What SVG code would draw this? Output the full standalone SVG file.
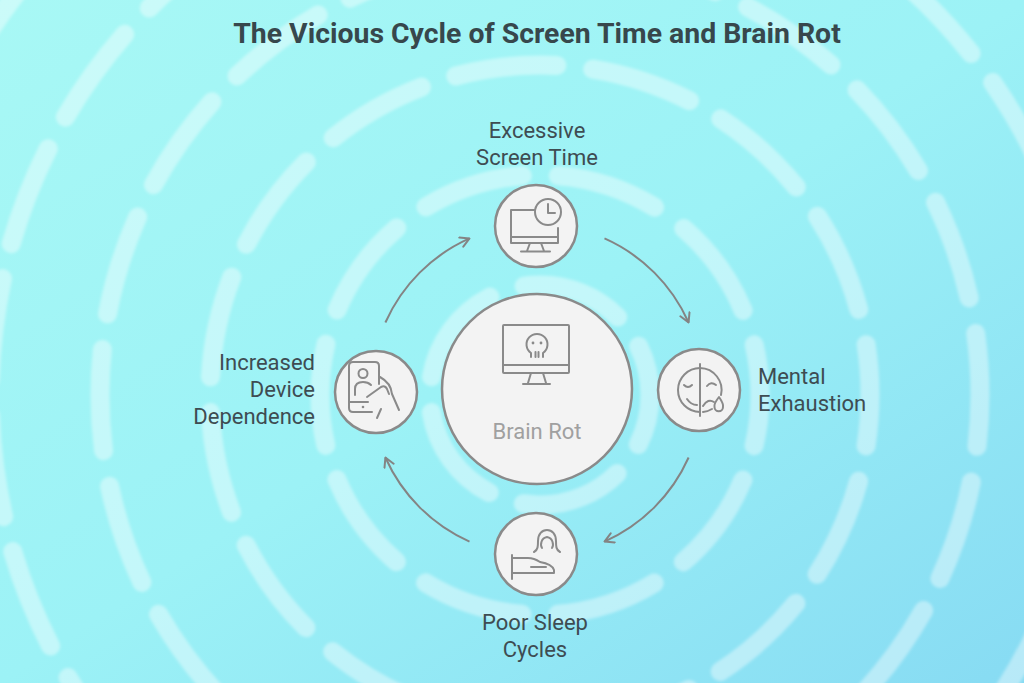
<svg xmlns="http://www.w3.org/2000/svg" width="1024" height="683" viewBox="0 0 1024 683">
  <defs>
    <linearGradient id="bg" x1="0" y1="0" x2="1" y2="1">
      <stop offset="0" stop-color="#a8f8f5"/>
      <stop offset="0.5" stop-color="#9cf2f6"/>
      <stop offset="1" stop-color="#87dbf3"/>
    </linearGradient>
    <filter id="soft" x="-5%" y="-5%" width="110%" height="110%">
      <feGaussianBlur stdDeviation="1.4"/>
    </filter>
    <marker id="arrow" viewBox="0 0 12 12" refX="11" refY="6" markerWidth="12" markerHeight="12" markerUnits="userSpaceOnUse" orient="auto">
      <path d="M2,1 L11,6 L2,11" fill="none" stroke="#848484" stroke-width="2" stroke-linecap="round" stroke-linejoin="round"/>
    </marker>
    <style>
      .ring { fill: none; stroke: #ffffff; stroke-opacity: 0.4; stroke-width: 19; stroke-linecap: round; }
      .node { fill: #f3f3f3; stroke: #8a8a8a; stroke-width: 2.5; }
      .icon { fill: none; stroke: #8a8a8a; stroke-width: 2; stroke-linecap: round; stroke-linejoin: round; }
      .conn { fill: none; stroke: #848484; stroke-width: 2; }
      .title { font-family: Roboto, "Liberation Sans", sans-serif; font-weight: 700; font-size: 28.4px; fill: #37474c; }
      .label { font-family: Roboto, "Liberation Sans", sans-serif; font-size: 22px; fill: #3e4c52; }
      .center-label { font-family: Roboto, "Liberation Sans", sans-serif; font-size: 22px; fill: #a0a0a0; }
    </style>
  </defs>

  <rect x="0" y="0" width="1024" height="683" fill="url(#bg)"/>

  <g id="background-rings" filter="url(#soft)">
    <circle class="ring" cx="540" cy="395" r="110" stroke-dasharray="102.2 36" stroke-dashoffset="51"/>
    <circle class="ring" cx="540" cy="395" r="220" stroke-dasharray="102.2 36" stroke-dashoffset="51"/>
    <circle class="ring" cx="540" cy="395" r="330" stroke-dasharray="102.2 36" stroke-dashoffset="51"/>
    <circle class="ring" cx="540" cy="395" r="440" stroke-dasharray="101.6 36" stroke-dashoffset="50"/>
    <circle class="ring" cx="540" cy="395" r="550" stroke-dasharray="102 36" stroke-dashoffset="51"/>
    <circle class="ring" cx="540" cy="395" r="660" stroke-dasharray="102.3 36" stroke-dashoffset="51"/>
  </g>

  <text class="title" x="537" y="43" text-anchor="middle">The Vicious Cycle of Screen Time and Brain Rot</text>

  <g id="connectors">
    <path class="conn" d="M385.4,322.5 A166,166 0 0 1 469.5,238.4" marker-end="url(#arrow)"/>
    <path class="conn" d="M604.5,238.4 A166,166 0 0 1 688.6,322.5" marker-end="url(#arrow)"/>
    <path class="conn" d="M688.6,457.5 A166,166 0 0 1 604.5,541.6" marker-end="url(#arrow)"/>
    <path class="conn" d="M469.5,541.6 A166,166 0 0 1 385.4,457.5" marker-end="url(#arrow)"/>
  </g>

  <g id="brain-rot">
    <circle class="node" cx="537" cy="389" r="95"/>
    <rect class="icon" x="503" y="325" width="66" height="48" rx="1"/>
    <line class="icon" x1="503" y1="365" x2="569" y2="365"/>
    <path class="icon" d="M531,373 L528,383 M543,373 L546,383 M523,384 L550,384"/>
    <path class="icon" d="M531,357 L531,353 A10.5,10.5 0 1 1 543,353 L543,357"/>
    <path class="icon" d="M535.5,352 L535.5,357 M538.5,352 L538.5,357"/>
    <circle cx="533" cy="343" r="1.4" fill="#8a8a8a"/>
    <circle cx="541" cy="343" r="1.4" fill="#8a8a8a"/>
    <text class="center-label" x="537" y="439" text-anchor="middle">Brain Rot</text>
  </g>

  <g id="excessive-screen-time">
    <circle class="node" cx="536" cy="226" r="41"/>
    <path class="icon" d="M535,210 L511,210 L511,243 L558,243 L558,228"/>
    <line class="icon" x1="511" y1="237" x2="558" y2="237"/>
    <path class="icon" d="M530,243 L527,251 M541,243 L544,251 M521,251.5 L550,251.5"/>
    <circle class="icon" cx="548" cy="212" r="13"/>
    <path class="icon" d="M548,204 L548,213 L555,213"/>
    <text class="label" x="537" y="138" text-anchor="middle">Excessive</text>
    <text class="label" x="537" y="165" text-anchor="middle">Screen Time</text>
  </g>

  <g id="mental-exhaustion">
    <circle class="node" cx="699" cy="390" r="41"/>
    <line class="icon" x1="700" y1="364" x2="700" y2="416"/>
    <path class="icon" d="M700,368 A22,22 0 0 0 700,412"/>
    <path class="icon" d="M700,368 A22,22 0 0 1 721,395"/>
    <path class="icon" d="M712,409 A22,22 0 0 1 703,412"/>
    <path class="icon" d="M684,385 Q688,389 692,385"/>
    <path class="icon" d="M707,386 Q711,381 716,385"/>
    <path class="icon" d="M687,399 Q691,405 697,405"/>
    <path class="icon" d="M703,406 Q708,398 714,402"/>
    <path class="icon" d="M719,397 C715,402 714,405 714.5,407 A4.2,4.2 0 0 0 723,407 C723.5,405 722.5,402 719,397 Z"/>
    <text class="label" x="758" y="384">Mental</text>
    <text class="label" x="758" y="411">Exhaustion</text>
  </g>

  <g id="poor-sleep-cycles">
    <circle class="node" cx="536" cy="554" r="41"/>
    <path class="icon" d="M534,552 C538,550 538,546 538,541 C538,534 542,530 547,530 C552,530 556,534 556,541 C556,546 556,550 560,552"/>
    <path class="icon" d="M542,548 C540,545 541,538 547,537 C553,538 554,545 552,548"/>
    <path class="icon" d="M512,555 L512,579"/>
    <path class="icon" d="M512,558 L528,558 Q534,558 540,562 Q552,564 554,570 L554,573 L512,573"/>
    <path class="icon" d="M531,567 L546,567"/>
    <text class="label" x="535" y="630" text-anchor="middle">Poor Sleep</text>
    <text class="label" x="535" y="657" text-anchor="middle">Cycles</text>
  </g>

  <g id="increased-device-dependence">
    <circle class="node" cx="376" cy="392" r="41"/>
    <path class="icon" d="M379,384 L379,366 Q379,362 375,362 L353,362 Q349,362 349,366 L349,408 Q349,412 353,412 L372,412"/>
    <line class="icon" x1="349" y1="402" x2="368" y2="402"/>
    <circle cx="363" cy="407" r="1.3" fill="#8a8a8a"/>
    <circle class="icon" cx="363" cy="373.5" r="4.5"/>
    <path class="icon" d="M355,395 L355,389 Q355,382 363,382 Q368,382 371,385"/>
    <path class="icon" d="M367,397 L381,387 Q385,385 387,389 L389,394"/>
    <path class="icon" d="M380,377 Q391,383 392,394 L399,410"/>
    <path class="icon" d="M377,418 L381,409"/>
    <text class="label" x="315" y="370" text-anchor="end">Increased</text>
    <text class="label" x="315" y="397" text-anchor="end">Device</text>
    <text class="label" x="315" y="424" text-anchor="end">Dependence</text>
  </g>
</svg>
